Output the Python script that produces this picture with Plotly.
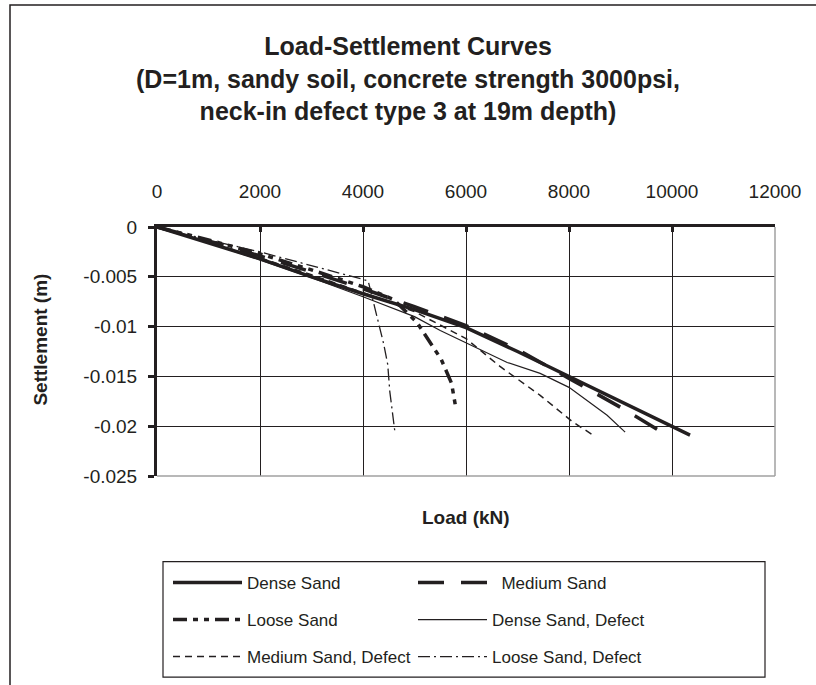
import plotly.graph_objects as go

# Load-settlement data (load in kN, settlement in m)
load_dense = [0, 1000, 2000, 3000, 4000, 5000, 6000, 7000, 8000, 9000, 10000, 10350]
settle_dense = [0, -0.0016, -0.0032, -0.0050, -0.0067, -0.0083, -0.0101, -0.0125, -0.0150, -0.0175, -0.0200, -0.0209]

load_medium = [0, 1000, 2000, 3000, 4000, 5000, 6000, 7000, 8000, 9000, 9900]
settle_medium = [0, -0.0014, -0.0029, -0.0045, -0.0062, -0.0080, -0.0099, -0.0123, -0.0152, -0.0181, -0.0209]

load_loose = [0, 1000, 2000, 3000, 4000, 4600, 5050, 5340, 5520, 5720, 5810]
settle_loose = [0, -0.0013, -0.0027, -0.0043, -0.0060, -0.0073, -0.0096, -0.0119, -0.0133, -0.0157, -0.0184]

load_dense_def = [0, 1000, 2000, 3000, 4000, 5000, 5500, 6000, 6800, 7440, 8000, 8740, 9090]
settle_dense_def = [0, -0.0016, -0.0033, -0.0051, -0.0070, -0.0090, -0.0104, -0.0116, -0.0136, -0.0147, -0.0161, -0.0189, -0.0206]

load_medium_def = [0, 1000, 2000, 3000, 4000, 5000, 6000, 6660, 7440, 8080, 8470]
settle_medium_def = [0, -0.0015, -0.0031, -0.0048, -0.0066, -0.0085, -0.0112, -0.0140, -0.0169, -0.0196, -0.0209]

load_loose_def = [0, 1000, 2000, 3000, 3800, 4100, 4200, 4300, 4400, 4480, 4520, 4620]
settle_loose_def = [0, -0.0013, -0.0025, -0.0039, -0.0050, -0.0054, -0.0075, -0.0096, -0.0117, -0.0138, -0.0165, -0.0206]

x_ticks = [0, 2000, 4000, 6000, 8000, 10000, 12000]
x_tick_text = ["0", "2000", "4000", "6000", "8000", "10000", "12000"]
y_ticks = [0, -0.005, -0.01, -0.015, -0.02, -0.025]
y_tick_text = ["0", "-0.005", "-0.01", "-0.015", "-0.02", "-0.025"]

INK = "#231f20"
FONT = "Liberation Sans, Arial, sans-serif"
NBSP = "\u00a0"

series = [
    ("Dense Sand", load_dense, settle_dense, 3.5, "solid", "legend"),
    (NBSP * 2 + "Medium Sand", load_medium, settle_medium, 3.5, "26px,17px", "legend2"),
    ("Loose Sand", load_loose, settle_loose, 3.5, "14px,6px,5px,6px,5px,6px", "legend3"),
    ("Dense Sand, Defect", load_dense_def, settle_dense_def, 1.2, "solid", "legend4"),
    ("Medium Sand, Defect", load_medium_def, settle_medium_def, 1.5, "7px,5px", "legend5"),
    ("Loose Sand, Defect", load_loose_def, settle_loose_def, 1.3, "12px,4px,2px,4px", "legend6"),
]

fig = go.Figure()
for name, xs, ys, w, dash, lg in series:
    fig.add_trace(go.Scatter(
        x=xs, y=ys, mode="lines", name=name, legend=lg,
        line=dict(color=INK, width=w, dash=dash),
    ))

# Pixel geometry of the plot area
L, R, T, B = 157, 775, 227, 477
W_FIG, H_FIG = 816, 685
PW, PH = R - L, B - T


def px(xpix):
    return (xpix - L) / PW


def py(ypix):
    return (B - ypix) / PH


# One legend per entry, arranged in a 2-column grid inside a common box
row_y = [583, 620, 657]
col_x = [168, 413]
legend_pos = {
    "legend": (col_x[0], row_y[0]),
    "legend2": (col_x[1], row_y[0]),
    "legend3": (col_x[0], row_y[1]),
    "legend4": (col_x[1], row_y[1]),
    "legend5": (col_x[0], row_y[2]),
    "legend6": (col_x[1], row_y[2]),
}
legend_layout = {}
for key, (lx, ly) in legend_pos.items():
    legend_layout[key] = dict(
        x=px(lx), y=py(ly), xanchor="left", yanchor="middle",
        bgcolor="rgba(0,0,0,0)", borderwidth=0, itemwidth=69,
        font=dict(family=FONT, size=17, color=INK),
    )

fig.update_layout(
    width=W_FIG, height=H_FIG,
    margin=dict(l=L, r=W_FIG - R, t=T, b=H_FIG - B, pad=0),
    paper_bgcolor="white", plot_bgcolor="white",
    showlegend=True,
    title=dict(
        text="Load-Settlement Curves<br>(D=1m, sandy soil, concrete strength 3000psi,<br>neck-in defect type 3 at 19m depth)",
        x=0.5, xanchor="center", y=1 - 55 / H_FIG, yanchor="top", yref="container",
        font=dict(family=FONT, size=25, color=INK, weight="bold"),
    ),
    xaxis=dict(
        range=[0, 12000], side="top", tickvals=x_ticks, ticktext=x_tick_text,
        showline=True, linewidth=3, linecolor=INK,
        showgrid=True, gridcolor=INK, gridwidth=1, zeroline=False,
        ticks="inside", ticklen=5, tickwidth=3, tickcolor=INK,
        ticklabelstandoff=18,
        tickfont=dict(family=FONT, size=19, color=INK),
    ),
    yaxis=dict(
        range=[-0.025, 0], tickvals=y_ticks, ticktext=y_tick_text,
        showline=True, linewidth=3, linecolor=INK,
        showgrid=True, gridcolor=INK, gridwidth=1, zeroline=False,
        ticks="outside", ticklen=6, tickwidth=3, tickcolor=INK,
        ticklabelstandoff=7,
        tickfont=dict(family=FONT, size=19, color=INK),
    ),
    **legend_layout,
)

# Axis titles
fig.add_annotation(
    text="Load (kN)", xref="paper", yref="paper", x=0.5, y=py(519),
    xanchor="center", yanchor="middle", showarrow=False,
    font=dict(family=FONT, size=19, color=INK, weight="bold"),
)
fig.add_annotation(
    text="Settlement (m)", xref="paper", yref="paper", x=px(41), y=py(340),
    xanchor="center", yanchor="middle", showarrow=False, textangle=-90,
    font=dict(family=FONT, size=19, color=INK, weight="bold"),
)

# Light-grey right and bottom edges of the plot area
fig.add_shape(type="line", xref="paper", yref="paper", x0=1, x1=1, y0=0, y1=1,
              line=dict(color="#a0a0a0", width=1.5), layer="above")
fig.add_shape(type="line", xref="paper", yref="paper", x0=0, x1=1, y0=0, y1=0,
              line=dict(color="#a0a0a0", width=1.5), layer="above")

# Legend frame
fig.add_shape(type="rect", xref="paper", yref="paper",
              x0=px(163), x1=px(765), y0=py(679), y1=py(563),
              line=dict(color=INK, width=1.2), fillcolor="rgba(0,0,0,0)")

# Chart-area frame (left and top edges fall inside the page)
fig.add_shape(type="rect", xref="paper", yref="paper",
              x0=px(10), x1=px(830), y0=py(700), y1=py(4),
              line=dict(color=INK, width=1.5), fillcolor="rgba(0,0,0,0)")

fig.write_html("out.html")
